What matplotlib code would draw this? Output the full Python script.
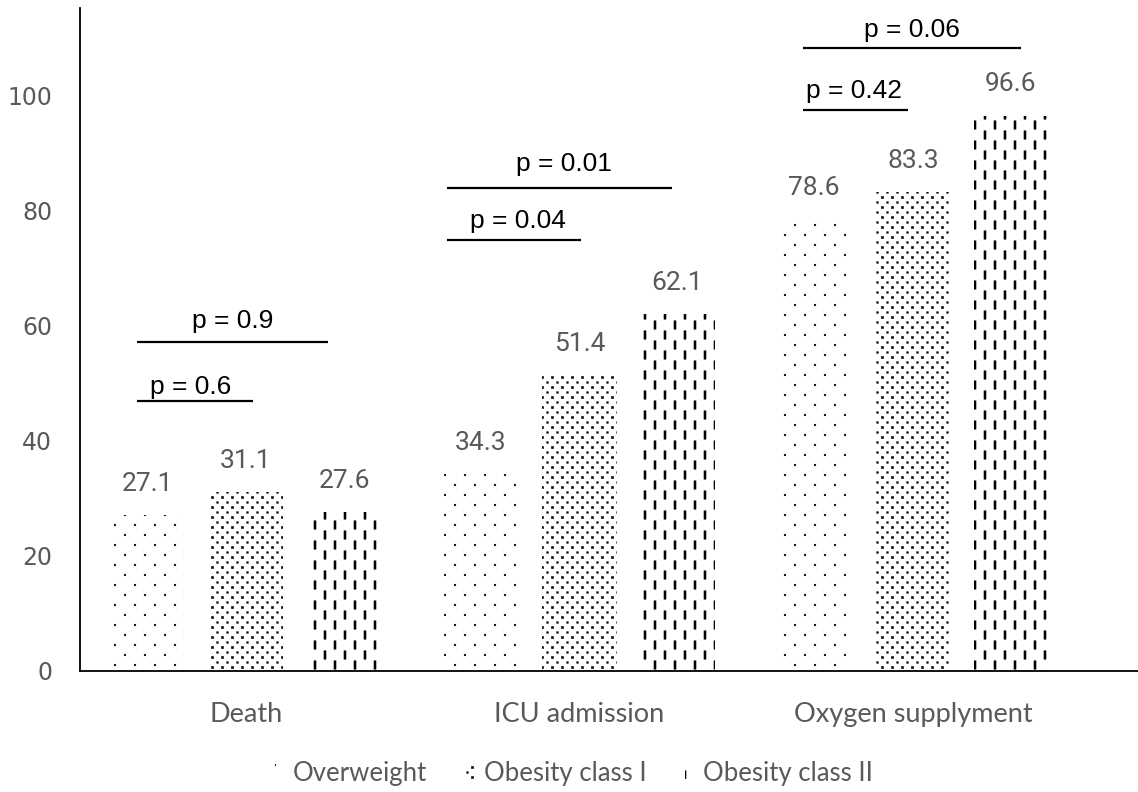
import numpy as np
import matplotlib
matplotlib.use("Agg")
import matplotlib.pyplot as plt
import matplotlib.hatch as mhatch
from matplotlib.path import Path
from matplotlib.patches import Patch

# ---------------- data ----------------
categories = ["Death", "ICU admission", "Oxygen supplyment"]
series_names = ["Overweight", "Obesity class I", "Obesity class II"]
overweight = [27.1, 34.3, 78.6]
obesity_1 = [31.1, 51.4, 83.3]
obesity_2 = [27.6, 62.1, 96.6]
yticks = [0, 20, 40, 60, 80, 100]

# p-value comparisons: (category index, text, line start, line end, line y, text x, text y)
p_cat = [0, 0, 1, 1, 2, 2]
p_text = ["p = 0.6", "p = 0.9", "p = 0.04", "p = 0.01", "p = 0.42", "p = 0.06"]
p_x0 = [-0.327, -0.327, -0.397, -0.397, -0.330, -0.330]
p_x1 = [0.022, 0.247, 0.006, 0.277, -0.016, 0.324]
p_y = [47.0, 57.2, 75.0, 84.0, 97.6, 108.4]
p_tx = [-0.166, -0.040, -0.186, -0.046, -0.177, -0.003]
p_ty = [49.4, 60.9, 78.2, 88.1, 100.8, 111.5]

# ---------------- custom hatch patterns ----------------
def _rects(centers, w, h):
    verts, codes = [], []
    for (cx, cy) in centers:
        x0, x1 = cx - w / 2, cx + w / 2
        y0, y1 = cy - h / 2, cy + h / 2
        verts += [(x0, y0), (x1, y0), (x1, y1), (x0, y1), (x0, y0)]
        codes += [Path.MOVETO, Path.LINETO, Path.LINETO, Path.LINETO, Path.CLOSEPOLY]
    return verts, codes

def _sparse_dots():
    c = []
    for r in range(10):
        for k in range(5):
            c.append((0.05 + 0.2 * k + (0.1 if r % 2 else 0.0), 0.05 + 0.1 * r))
    v, cd = _rects(c, 0.017, 0.017)
    return Path(np.array(v), np.array(cd, dtype=Path.code_type))

def _dense_dots():
    v, cd = [], []
    for r in range(20):
        c = []
        for k in range(10):
            c.append((0.025 + 0.1 * k + (0.05 if r % 2 else 0.0), 0.025 + 0.05 * r))
        s = 0.022 if r % 2 == 0 else 0.017
        vv, cc = _rects(c, s, s)
        v += vv
        cd += cc
    return Path(np.array(v), np.array(cd, dtype=Path.code_type))

def _dashes():
    c = []
    for k in range(10):
        off = 0.1 if k % 2 else 0.0
        for j in range(5):
            c.append((0.05 + 0.1 * k, 0.05 + off + 0.2 * j))
    v, cd = _rects(c, 0.021, 0.085)
    return Path(np.array(v), np.array(cd, dtype=Path.code_type))

_custom = {".": _sparse_dots, "o": _dense_dots, "|": _dashes}
_orig_get_path = mhatch.get_path

def _get_path(hatchpattern, density=6):
    if hatchpattern in _custom:
        return _custom[hatchpattern]()
    return _orig_get_path(hatchpattern, density)

mhatch.get_path = _get_path
plt.rcParams["hatch.linewidth"] = 0.3

# ---------------- figure ----------------
fig = plt.figure(figsize=(11.38, 7.92), dpi=100)
ax = fig.add_axes([80 / 1138, 121 / 792, 1 - 80 / 1138, (671 - 8) / 792])

x = np.arange(len(categories))
offsets = [-0.296, 0.0, 0.294]
width = 0.222
hatches = [".", "o", "|"]
data = [overweight, obesity_1, obesity_2]
gray = "#595959"

for s, (vals, off, h) in enumerate(zip(data, offsets, hatches)):
    bars = ax.bar(x + off, vals, width, facecolor="white", edgecolor="black",
                  linewidth=0, hatch=h)
    for xi, v in zip(x + off, vals):
        ax.text(xi, v + 5.4, f"{v:.1f}", ha="center", va="center",
                fontsize=19, color=gray, family="Roboto")

for ci, t, a, b, yl, tx, ty in zip(p_cat, p_text, p_x0, p_x1, p_y, p_tx, p_ty):
    ax.plot([ci + a, ci + b], [yl, yl], color="black", lw=1.6, solid_capstyle="butt")
    ax.text(ci + tx, ty, t, ha="center", va="center", fontsize=19,
            color="black", family="Liberation Sans")

ax.set_xlim(-0.498, 2.675)
ax.set_ylim(0, 115.3)
ax.set_yticks(yticks)
ax.set_yticklabels([str(v) for v in yticks], family="DejaVu Sans", fontsize=17, color=gray)
ax.set_xticks(x)
ax.set_xticklabels(categories, family="Lato", fontsize=19.5, color=gray)
ax.tick_params(axis="y", length=0, pad=20)
ax.tick_params(axis="x", length=0, pad=22)
for sp in ["top", "right"]:
    ax.spines[sp].set_visible(False)
ax.spines["left"].set_linewidth(1.3)
ax.spines["bottom"].set_linewidth(1.3)
ax.spines["left"].set_color("black")
ax.spines["bottom"].set_color("black")

handles = [Patch(facecolor="white", edgecolor="black", linewidth=0, hatch=h) for h in hatches]
leg = fig.legend(handles, series_names, loc="center", bbox_to_anchor=(574 / 1138, 19 / 792),
                 ncol=3, frameon=False, handlelength=0.3, handleheight=0.55,
                 handletextpad=0.4, columnspacing=1.5, prop={"family": "Lato", "size": 18.5})
for t in leg.get_texts():
    t.set_color(gray)

fig.savefig("out.png", dpi=100)
